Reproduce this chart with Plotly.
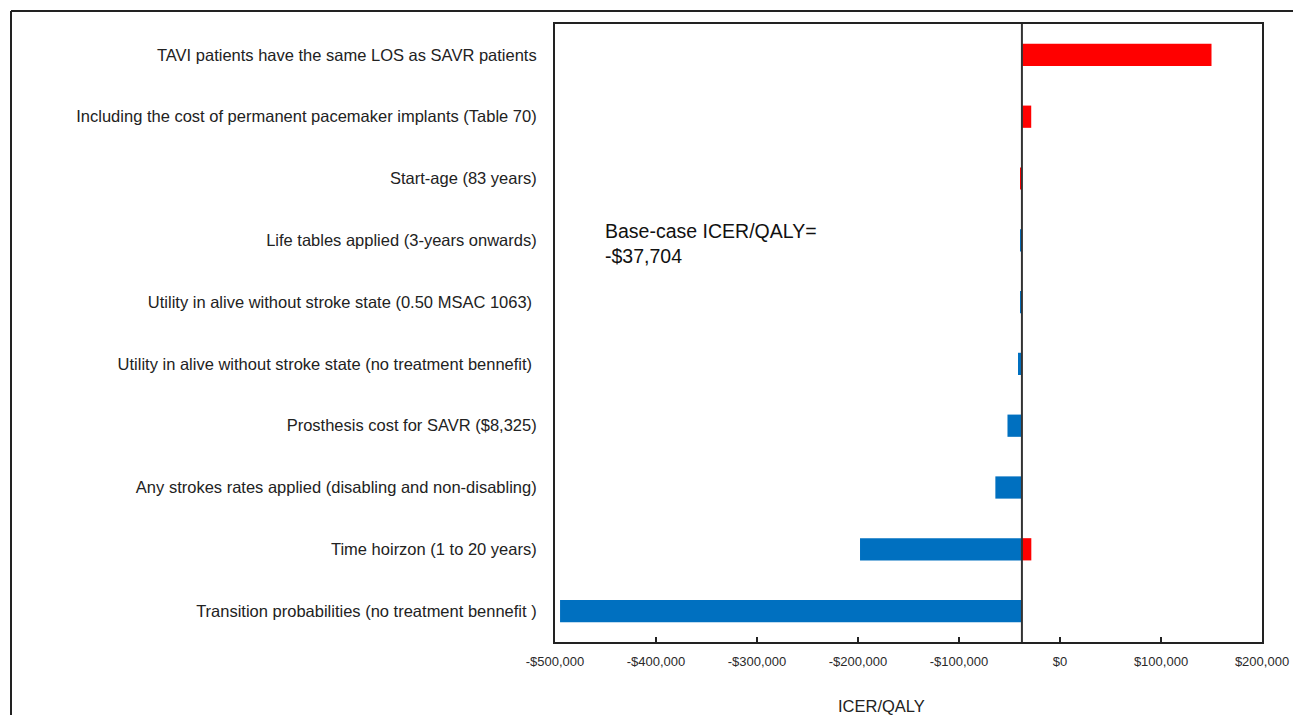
import plotly.graph_objects as go

BASE = -37704

categories = [
    "TAVI patients have the same LOS as SAVR patients",
    "Including the cost of permanent pacemaker implants (Table 70)",
    "Start-age (83 years)",
    "Life tables applied (3-years onwards)",
    "Utility in alive without stroke state (0.50 MSAC 1063) ",
    "Utility in alive without stroke state (no treatment bennefit) ",
    "Prosthesis cost for SAVR ($8,325)",
    "Any strokes rates applied (disabling and non-disabling)",
    "Time hoirzon (1 to 20 years)",
    "Transition probabilities (no treatment bennefit )",
]
# ICER/QALY at the "high" (red) and "low" (blue) end of each sensitivity analysis
high_values = [150000, -28500, -39600, None, None, None, None, None, -28400, None]
low_values = [None, None, None, -39600, -39500, -41600, -52000, -64000, -198000, -495000]

tick_vals = [-500000, -400000, -300000, -200000, -100000, 0, 100000, 200000]
tick_text = ["-$500,000", "-$400,000", "-$300,000", "-$200,000", "-$100,000", "$0", "$100,000", "$200,000"]

W, H = 1293, 715
L, R, T, B = 555, 31, 24, 73
pw, ph = W - L - R, H - T - B

def px2x(px):
    return (px - L) / pw

def px2y(py):
    return (H - B - py) / ph

fig = go.Figure()
fig.add_trace(go.Bar(
    y=categories,
    x=[(v - BASE) if v is not None else None for v in low_values],
    base=BASE, orientation="h", width=0.36,
    marker=dict(color="#0070C0", line=dict(width=0)),
    name="low", showlegend=False,
))
fig.add_trace(go.Bar(
    y=categories,
    x=[(v - BASE) if v is not None else None for v in high_values],
    base=BASE, orientation="h", width=0.36,
    marker=dict(color="#FF0000", line=dict(width=0)),
    name="high", showlegend=False,
))

fig.update_layout(
    width=W, height=H,
    margin=dict(l=L, r=R, t=T, b=B, pad=0, autoexpand=False),
    paper_bgcolor="white", plot_bgcolor="white",
    barmode="overlay",
    font=dict(family="Liberation Sans, Arial, sans-serif", color="#222"),
    xaxis=dict(
        range=[-500000, 200000], tickvals=tick_vals, ticktext=tick_text,
        ticks="inside", ticklen=5, tickwidth=2, tickcolor="#222",
        ticklabelstandoff=6,
        showgrid=False, zeroline=False, automargin=False,
        showline=True, linecolor="#222", linewidth=2, mirror=True,
        tickfont=dict(size=13, color="#2a2a2a"),
    ),
    yaxis=dict(
        autorange="reversed", showgrid=False, zeroline=False, automargin=False,
        showline=True, linecolor="#222", linewidth=2, mirror=True,
        ticks="", ticklabelstandoff=13,
        tickfont=dict(size=16.5, color="#222"),
    ),
    shapes=[
        dict(type="line", xref="x", yref="paper", x0=BASE, x1=BASE, y0=0, y1=1,
             line=dict(color="#333", width=2)),
        dict(type="line", xref="paper", yref="paper", x0=px2x(11), x1=px2x(W + 5),
             y0=px2y(11), y1=px2y(11), line=dict(color="#222", width=2)),
        dict(type="line", xref="paper", yref="paper", x0=px2x(11), x1=px2x(11),
             y0=px2y(11), y1=px2y(H + 5), line=dict(color="#222", width=2)),
    ],
    annotations=[
        dict(text="Base-case ICER/QALY=<br>-$37,704", xref="paper", yref="paper",
             x=px2x(603), y=px2y(218), xanchor="left", yanchor="top", align="left",
             showarrow=False, font=dict(size=19.5, color="#111")),
        dict(text="ICER/QALY", xref="paper", yref="paper",
             x=px2x(881), y=px2y(706), xanchor="center", yanchor="middle",
             showarrow=False, font=dict(size=16.5, color="#222")),
    ],
)

fig.write_html("out.html")
